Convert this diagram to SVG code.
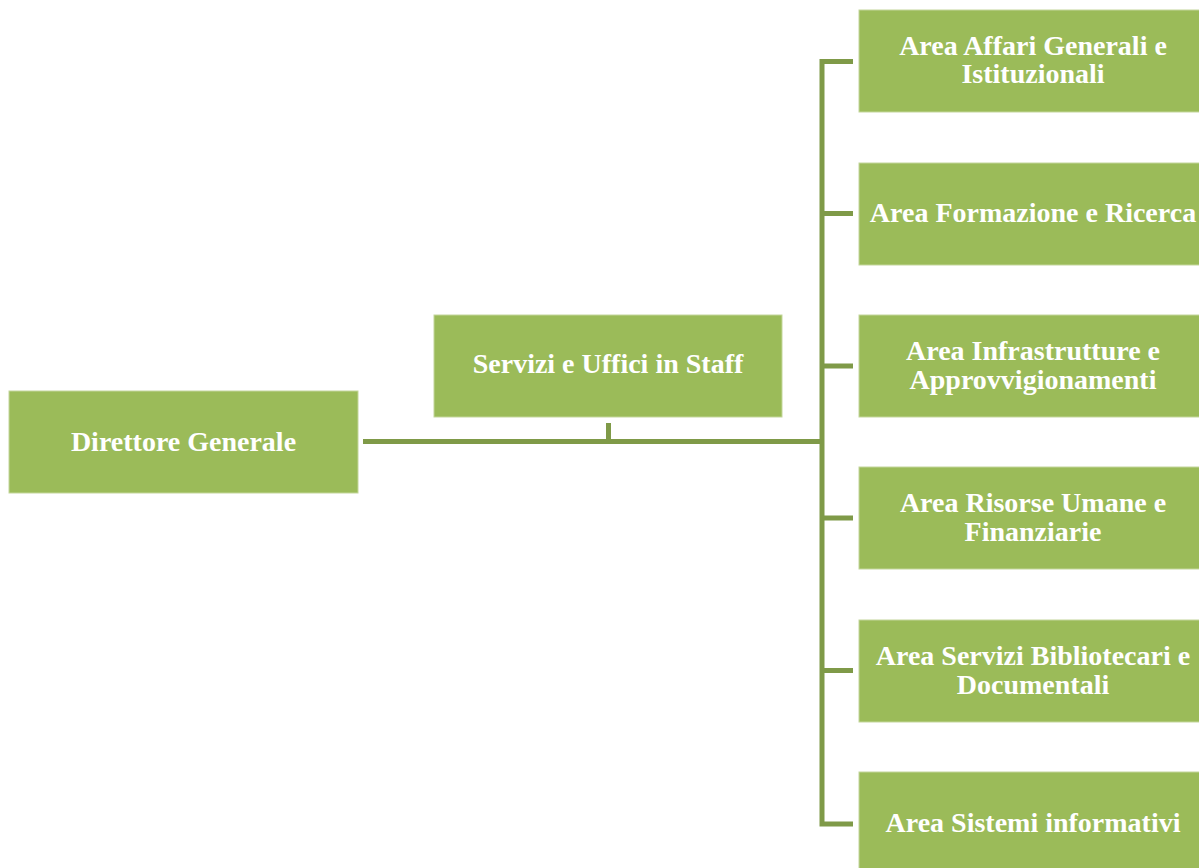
<svg xmlns="http://www.w3.org/2000/svg" width="1199" height="868" viewBox="0 0 1199 868">
<style>
.box{fill:#9BBB59;stroke:#C3D69B;stroke-width:1}
.t{font-family:"Liberation Serif","DejaVu Serif",serif;font-weight:bold;font-size:28px;fill:#FFFFFF;text-anchor:middle}
.c{fill:none;stroke:#7F9A48;stroke-width:5;stroke-linecap:butt}
</style>
<rect width="1199" height="868" fill="#FFFFFF"/>
<g id="connectors">
<path class="c" d="M363 441.5 H822"/>
<path class="c" d="M608.5 423 V441" stroke-width="4"/>
<path class="c" d="M853 61.5 H822 V824 H853"/>
<path class="c" d="M822 213.5 H853 M822 366 H853 M822 518 H853 M822 670.5 H853"/>
</g>
<g id="direttore">
<rect class="box" x="9" y="391" width="349" height="102"/>
<text class="t" x="183.5" y="451">Direttore Generale</text>
</g>
<g id="staff">
<rect class="box" x="434" y="315" width="348" height="102"/>
<text class="t" x="608" y="373">Servizi e Uffici in Staff</text>
</g>
<g id="area1">
<rect class="box" x="859" y="10" width="348" height="102"/>
<text class="t" x="1033" y="55">Area Affari Generali e</text>
<text class="t" x="1033" y="83">Istituzionali</text>
</g>
<g id="area2">
<rect class="box" x="859" y="163" width="348" height="102"/>
<text class="t" x="1033" y="222">Area Formazione e Ricerca</text>
</g>
<g id="area3">
<rect class="box" x="859" y="315" width="348" height="102"/>
<text class="t" x="1033" y="360">Area Infrastrutture e</text>
<text class="t" x="1033" y="389">Approvvigionamenti</text>
</g>
<g id="area4">
<rect class="box" x="859" y="467" width="348" height="102"/>
<text class="t" x="1033" y="512">Area Risorse Umane e</text>
<text class="t" x="1033" y="541">Finanziarie</text>
</g>
<g id="area5">
<rect class="box" x="859" y="620" width="348" height="102"/>
<text class="t" x="1033" y="665">Area Servizi Bibliotecari e</text>
<text class="t" x="1033" y="694">Documentali</text>
</g>
<g id="area6">
<rect class="box" x="859" y="772" width="348" height="102"/>
<text class="t" x="1033" y="832">Area Sistemi informativi</text>
</g>
</svg>
